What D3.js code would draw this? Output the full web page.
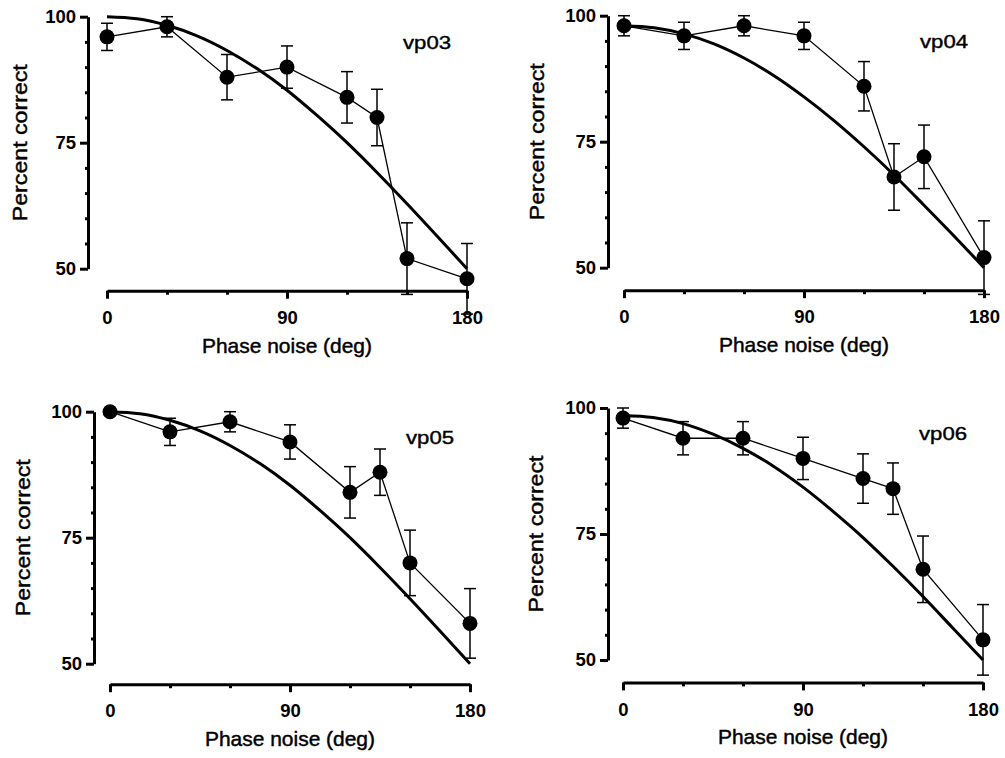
<!DOCTYPE html>
<html>
<head>
<meta charset="utf-8">
<script src="https://cdn.jsdelivr.net/npm/d3@7"></script>
<style>
  body { margin: 0; background: #fff; }
  text { font-family: "Liberation Sans", Arial, sans-serif; fill: #000; }
  .title { stroke: #000; stroke-width: 0.45px; }
</style>
</head>
<body>
<div id="chart"></div>
<script>
// phase noise levels (deg) at which each observer was tested
const angles = [0, 30, 60, 90, 120, 135, 150, 180];
const subjects = ["vp03", "vp04", "vp05", "vp06"];

// percent correct, and the error bar half-lengths
const vp03Pct = [96, 98, 88, 90, 84, 80, 52, 48];
const vp03Err = [2.7, 2, 4.5, 4.2, 5.1, 5.6, 7.1, 7];
const vp04Pct = [98, 96, 98, 96, 86, 68, 72, 52];
const vp04Err = [2, 2.7, 2, 2.7, 4.9, 6.6, 6.3, 7.3];
const vp05Pct = [100, 96, 98, 94, 84, 88, 70, 58];
const vp05Err = [0, 2.7, 2, 3.4, 5.1, 4.6, 6.5, 6.9];
const vp06Pct = [98, 94, 94, 90, 86, 84, 68, 54];
const vp06Err = [2, 3.3, 3.3, 4.2, 4.9, 5.1, 6.6, 7];

// fitted curves, every 15 deg
const fitAngles = [0, 15, 30, 45, 60, 75, 90, 105, 120, 135, 150, 165, 180];
const vp03Fit = [100, 99.6, 98.3, 96.2, 93.3, 89.7, 85.4, 80.4, 75.0, 69.1, 62.9, 56.5, 50];
const vp04Fit = [98.0, 97.6, 96.4, 94.4, 91.6, 88.1, 83.9, 79.2, 74.0, 68.4, 62.4, 56.3, 50];
const vp05Fit = [100, 99.6, 98.3, 96.2, 93.3, 89.7, 85.4, 80.4, 75.0, 69.1, 62.9, 56.5, 50];
const vp06Fit = [98.5, 98.1, 96.9, 94.8, 92.0, 88.5, 84.3, 79.5, 74.3, 68.6, 62.6, 56.3, 50];

const yMajor = [50, 75, 100];
const yMinor = [55, 60, 65, 70, 80, 85, 90, 95];
const xMajor = [0, 90, 180];
const xMinor = [30, 60, 120, 150];

const series = [
    { name: subjects[0], pct: vp03Pct, err: vp03Err, fit: vp03Fit },
    { name: subjects[1], pct: vp04Pct, err: vp04Err, fit: vp04Fit },
    { name: subjects[2], pct: vp05Pct, err: vp05Err, fit: vp05Fit },
    { name: subjects[3], pct: vp06Pct, err: vp06Err, fit: vp06Fit }
];

// where each panel sits: left = x of 0 deg, top = y of 100 %
const layout = [
    { left: 107, top: 16.7, yGap: 19, xGap: 22 },
    { left: 624, top: 15.7, yGap: 16, xGap: 22.5 },
    { left: 110, top: 411.7, yGap: 16, xGap: 20.5 },
    { left: 623, top: 408, yGap: 15, xGap: 22.4 }
];

const W = 360, H = 252;
const font = "Liberation Sans, Arial, sans-serif";

const svg = d3.select("#chart").append("svg")
    .attr("width", 1005)
    .attr("height", 758);

const x = d3.scaleLinear().domain([0, 180]).range([0, W]);
const y = d3.scaleLinear().domain([50, 100]).range([H, 0]);

function styleAxis(ax) {
    ax.attr("font-family", font).attr("font-size", 18.5).attr("font-weight", "bold");
    ax.select(".domain").attr("stroke-width", 3);
    ax.selectAll(".tick line").attr("stroke-width", 3);
}

series.forEach((s, i) => {
    const p = layout[i];
    const g = svg.append("g").attr("transform", `translate(${p.left},${p.top})`);

    // y axis
    const yAx = g.append("g").attr("transform", `translate(${-p.yGap},0)`);
    yAx.call(d3.axisLeft(y).tickValues(yMajor).tickSize(8).tickSizeOuter(0).tickPadding(4));
    styleAxis(yAx);
    const yMin = g.append("g").attr("transform", `translate(${-p.yGap},0)`)
        .call(d3.axisLeft(y).tickValues(yMinor).tickSize(3).tickFormat(""));
    yMin.select(".domain").remove();
    yMin.selectAll(".tick line").attr("stroke-width", 3);

    // x axis
    const xAx = g.append("g").attr("transform", `translate(0,${H + p.xGap})`);
    xAx.call(d3.axisBottom(x).tickValues(xMajor).tickSize(8).tickSizeOuter(0).tickPadding(12));
    styleAxis(xAx);
    const xMin = g.append("g").attr("transform", `translate(0,${H + p.xGap})`)
        .call(d3.axisBottom(x).tickValues(xMinor).tickSize(4).tickFormat(""));
    xMin.select(".domain").remove();
    xMin.selectAll(".tick line").attr("stroke-width", 3);

    // axis titles
    g.append("text")
        .attr("class", "title")
        .attr("x", x(90)).attr("y", H + p.xGap + 62)
        .attr("text-anchor", "middle")
        .style("font-size", "21px")
        .attr("textLength", 170).attr("lengthAdjust", "spacingAndGlyphs")
        .text("Phase noise (deg)");
    g.append("text")
        .attr("class", "title")
        .attr("transform", `translate(-80,${y(75)}) rotate(-90)`)
        .attr("text-anchor", "middle")
        .style("font-size", "21px")
        .attr("textLength", 157).attr("lengthAdjust", "spacingAndGlyphs")
        .text("Percent correct");

    // observer label
    g.append("text")
        .attr("class", "title")
        .attr("x", 296).attr("y", 32)
        .style("font-size", "19px")
        .style("stroke-width", "0.4px")
        .attr("textLength", 48).attr("lengthAdjust", "spacingAndGlyphs")
        .text(s.name);

    // fitted curve
    const fitLine = d3.line()
        .x((d, j) => x(fitAngles[j]))
        .y(d => y(d))
        .curve(d3.curveMonotoneX);
    g.append("path")
        .datum(s.fit)
        .attr("d", fitLine)
        .attr("fill", "none")
        .attr("stroke", "#000")
        .attr("stroke-width", 3);

    const pts = angles.map((a, j) => ({ a: a, v: s.pct[j], e: s.err[j] }));

    // data line
    g.append("path")
        .datum(pts)
        .attr("d", d3.line().x(d => x(d.a)).y(d => y(d.v)))
        .attr("fill", "none")
        .attr("stroke", "#000")
        .attr("stroke-width", 1.3);

    // error bars
    const eb = g.append("g").selectAll("g")
        .data(pts.filter(d => d.e > 0))
        .enter().append("g")
        .attr("stroke", "#000")
        .attr("stroke-width", 1.5);
    eb.append("line")
        .attr("x1", d => x(d.a)).attr("x2", d => x(d.a))
        .attr("y1", d => y(d.v - d.e)).attr("y2", d => y(d.v + d.e));
    eb.append("line")
        .attr("x1", d => x(d.a) - 6).attr("x2", d => x(d.a) + 6)
        .attr("y1", d => y(d.v + d.e)).attr("y2", d => y(d.v + d.e));
    eb.append("line")
        .attr("x1", d => x(d.a) - 6).attr("x2", d => x(d.a) + 6)
        .attr("y1", d => y(d.v - d.e)).attr("y2", d => y(d.v - d.e));

    // markers
    g.append("g").selectAll("circle")
        .data(pts)
        .enter().append("circle")
        .attr("cx", d => x(d.a))
        .attr("cy", d => y(d.v))
        .attr("r", 7.5)
        .attr("fill", "#000");
});
</script>
</body>
</html>
